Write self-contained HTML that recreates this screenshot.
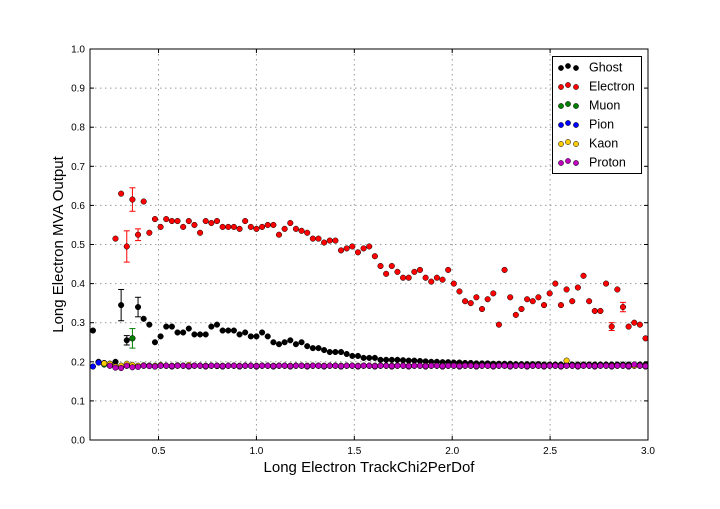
<!DOCTYPE html>
<html><head><meta charset="utf-8"><style>
body{margin:0;background:#fff;}
svg text{font-family:"Liberation Sans","DejaVu Sans",sans-serif;}
</style></head><body>
<svg id="c" width="720" height="504" xmlns="http://www.w3.org/2000/svg"></svg>
<script>
const xTicks=[0.5,1.0,1.5,2.0,2.5,3.0];
const xTickLabels=["0.5","1.0","1.5","2.0","2.5","3.0"];
const yTicks=[0,0.1,0.2,0.3,0.4,0.5,0.6,0.7,0.8,0.9,1.0];
const yTickLabels=["0.0","0.1","0.2","0.3","0.4","0.5","0.6","0.7","0.8","0.9","1.0"];
const binStart=0.165, binStep=0.0288, nBins=99;
const ghost=[0.28,0.20,0.195,0.195,0.20,0.345,0.255,0.26,0.34,0.31,0.295,0.25,0.265,0.29,0.29,0.275,0.275,0.285,0.27,0.27,0.27,0.29,0.295,0.28,0.28,0.28,0.27,0.275,0.265,0.265,0.275,0.265,0.25,0.245,0.25,0.255,0.245,0.25,0.24,0.235,0.235,0.23,0.225,0.225,0.225,0.22,0.215,0.215,0.21,0.21,0.21,0.205,0.205,0.205,0.205,0.204,0.203,0.203,0.202,0.201,0.2,0.2,0.199,0.199,0.198,0.198,0.197,0.197,0.196,0.196,0.196,0.195,0.195,0.195,0.195,0.194,0.194,0.194,0.194,0.194,0.193,0.193,0.193,0.193,0.193,0.193,0.193,0.193,0.193,0.193,0.193,0.193,0.193,0.193,0.193,0.193,0.193,0.193,0.193];
const ghostErr={5:0.04,6:0.012,8:0.025,9:0.006};
const electron=[null,null,null,null,0.515,0.63,0.495,0.615,0.525,0.61,0.53,0.565,0.545,0.565,0.56,0.56,0.545,0.56,0.55,0.53,0.56,0.555,0.56,0.545,0.545,0.545,0.54,0.56,0.545,0.54,0.545,0.55,0.55,0.525,0.54,0.555,0.54,0.535,0.53,0.515,0.515,0.505,0.51,0.51,0.485,0.49,0.495,0.48,0.49,0.495,0.47,0.445,0.425,0.445,0.43,0.415,0.415,0.43,0.435,0.415,0.405,0.415,0.41,0.435,0.40,0.38,0.355,0.35,0.365,0.335,0.36,0.375,0.295,0.435,0.365,0.32,0.335,0.36,0.355,0.365,0.345,0.375,0.40,0.345,0.385,0.355,0.39,0.42,0.355,0.33,0.33,0.40,0.29,0.385,0.34,0.29,0.30,0.295,0.26];
const electronErr={6:0.04,7:0.03,8:0.015,92:0.01,94:0.012};
const muon=[null,null,0.193,0.19,0.188,0.186,0.19,0.26,0.188,0.19,0.19,0.188,0.19,0.19,0.188,0.19,0.19,0.188,0.19,0.19,0.188,0.19,0.189,0.188,0.19,0.19,0.188,0.19,0.19,0.188,0.19,0.19,0.188,0.19,0.19,0.188,0.19,0.19,0.188,0.19,0.19,0.188,0.19,0.19,0.188,0.19,0.19,0.188,0.19,0.19,0.188,0.19,0.19,0.188,0.19,0.19,0.188,0.19,0.19,0.188,0.19,0.19,0.188,0.19,0.19,0.188,0.19,0.19,0.188,0.19,0.19,0.188,0.19,0.19,0.188,0.19,0.19,0.188,0.19,0.19,0.188,0.19,0.19,0.188,0.19,0.19,0.188,0.19,0.19,0.188,0.19,0.19,0.188,0.19,0.19,0.188,0.19,0.19,0.188];
const muonErr={7:0.025};
const pion=[0.188,0.198,0.197,0.193,0.188,0.186,0.19,0.19,0.188,0.19,0.19,0.188,0.19,0.19,0.188,0.19,0.19,0.188,0.19,0.19,0.188,0.19,0.19,0.188,0.19,0.19,0.188,0.19,0.19,0.188,0.19,0.19,0.188,0.19,0.19,0.188,0.19,0.19,0.188,0.19,0.19,0.188,0.19,0.19,0.188,0.19,0.19,0.188,0.19,0.19,0.188,0.19,0.19,0.188,0.19,0.19,0.188,0.19,0.19,0.188,0.19,0.19,0.188,0.19,0.19,0.188,0.19,0.19,0.188,0.19,0.19,0.188,0.19,0.19,0.188,0.19,0.19,0.188,0.19,0.19,0.188,0.19,0.19,0.188,0.19,0.19,0.188,0.19,0.19,0.188,0.19,0.19,0.188,0.19,0.19,0.188,0.19,0.19,0.188];
const kaon=[null,null,0.196,0.195,0.188,0.19,0.195,0.192,0.19,0.191,0.19,0.19,0.192,0.19,0.19,0.191,0.19,0.192,0.19,0.19,0.19,0.19,0.19,0.19,0.19,0.19,0.19,0.19,0.19,0.19,0.19,0.19,0.19,0.19,0.19,0.19,0.19,0.19,0.19,0.19,0.19,0.19,0.19,0.19,0.19,0.19,0.19,0.19,0.19,0.19,0.19,0.19,0.19,0.19,0.19,0.19,0.19,0.19,0.19,0.19,0.19,0.19,0.19,0.19,0.19,0.19,0.19,0.19,0.19,0.19,0.19,0.19,0.19,0.19,0.19,0.19,0.19,0.19,0.19,0.19,0.19,0.19,0.19,0.19,0.203,0.19,0.19,0.19,0.19,0.19,0.19,0.19,0.19,0.19,0.19,0.19,0.19,0.19,0.19];
const proton=[null,null,null,0.19,0.185,0.184,0.19,0.186,0.187,0.19,0.189,0.188,0.19,0.19,0.189,0.19,0.19,0.189,0.19,0.19,0.189,0.19,0.19,0.189,0.19,0.19,0.189,0.19,0.19,0.189,0.19,0.19,0.189,0.19,0.19,0.189,0.19,0.19,0.189,0.19,0.19,0.189,0.19,0.19,0.189,0.19,0.19,0.189,0.19,0.19,0.189,0.19,0.19,0.189,0.19,0.19,0.189,0.19,0.19,0.189,0.19,0.19,0.189,0.19,0.19,0.189,0.19,0.19,0.189,0.19,0.19,0.189,0.19,0.19,0.189,0.19,0.19,0.189,0.19,0.19,0.189,0.19,0.19,0.189,0.19,0.19,0.189,0.19,0.19,0.189,0.19,0.19,0.189,0.19,0.19,0.189,0.193,0.19,0.189];
const seriesNames=["Ghost","Electron","Muon","Pion","Kaon","Proton"];
const seriesColors=["#000000","#ff0000","#007f00","#0000ff","#ffcc00","#bf00bf"];

const NS="http://www.w3.org/2000/svg";
const svg=document.getElementById('c');
const L=90,R=648,T=49,B=440,xMin=0.15,xMax=3.0;
const X=v=>L+(v-xMin)/(xMax-xMin)*(R-L);
const Y=v=>B-v*(B-T);
function mk(tag,at,parent){const e=document.createElementNS(NS,tag);for(const k in at)e.setAttribute(k,at[k]);(parent||svg).appendChild(e);return e;}

const grid=mk('g',{});


xTicks.forEach(t=>{mk('line',{x1:X(t),x2:X(t),y1:T,y2:B,stroke:'#999','stroke-dasharray':'1.5,3.5','stroke-width':1},grid);});
yTicks.forEach(t=>{mk('line',{x1:L,x2:R,y1:Y(t),y2:Y(t),stroke:'#999','stroke-dasharray':'1.5,3.5','stroke-width':1},grid);});

const xa=mk('g',{});


xTicks.forEach((t,i)=>{
  mk('line',{x1:X(t),x2:X(t),y1:B,y2:B-4,stroke:'#000'},xa);
  mk('line',{x1:X(t),x2:X(t),y1:T,y2:T+4,stroke:'#000'},xa);
  const tx=mk('text',{x:X(t),y:B+14,'text-anchor':'middle','font-size':10},xa);tx.textContent=xTickLabels[i];
});
const ya=mk('g',{});


yTicks.forEach((t,i)=>{
  mk('line',{x1:L,x2:L+4,y1:Y(t),y2:Y(t),stroke:'#000'},ya);
  mk('line',{x1:R,x2:R-4,y1:Y(t),y2:Y(t),stroke:'#000'},ya);
  const tx=mk('text',{x:L-5,y:Y(t)+3.5,'text-anchor':'end','font-size':10},ya);tx.textContent=yTickLabels[i];
});
const xt=mk('text',{x:(L+R)/2,y:472,'text-anchor':'middle','font-size':15});


xt.textContent='Long Electron TrackChi2PerDof';
const yt=mk('text',{x:63,y:(T+B)/2,'text-anchor':'middle','font-size':15,transform:`rotate(-90 63 ${(T+B)/2})`});


yt.textContent='Long Electron MVA Output';

const allSeries=[ghost,electron,muon,pion,kaon,proton];
const allErr=[ghostErr,electronErr,muonErr,{},{},{}];
const order=[1,0,3,2,4,5];
order.forEach(s=>{
  const g=mk('g',{});
  
  
  allSeries[s].forEach((v,i)=>{
    if(v===null||v===undefined)return;
    const xv=binStart+i*binStep;
    const e=allErr[s][i]||0.004;
    const col=seriesColors[s];
    mk('line',{x1:X(xv-binStep/2),x2:X(xv+binStep/2),y1:Y(v),y2:Y(v),stroke:col,'stroke-width':1,opacity:0.5},g);
    mk('line',{x1:X(xv),x2:X(xv),y1:Y(v-e),y2:Y(v+e),stroke:col,'stroke-width':1,opacity:e>0.008?1:0.5},g);
    if(e>0.008){mk('line',{x1:X(xv)-3,x2:X(xv)+3,y1:Y(v-e),y2:Y(v-e),stroke:col},g);mk('line',{x1:X(xv)-3,x2:X(xv)+3,y1:Y(v+e),y2:Y(v+e),stroke:col},g);}
    const c=mk('circle',{cx:X(xv),cy:Y(v),r:2.8,fill:col,stroke:'#000','stroke-width':0.5},g);
    
    
  });
});

mk('rect',{x:L,y:T,width:R-L,height:B-T,fill:'none',stroke:'#000','stroke-width':1});

const lg=mk('g',{});


mk('rect',{x:552.5,y:56.5,width:89,height:117,fill:'#fff',stroke:'#000','stroke-width':1},lg);
seriesNames.forEach((n,i)=>{
  const y=67+i*19;
  const en=mk('g',{},lg);
  
  
  [561,568,576].forEach((cx,k)=>mk('circle',{cx:cx,cy:y+(k==1?-1:1),r:2.6,fill:seriesColors[i],stroke:'#000','stroke-width':0.5},en));
  const t=mk('text',{x:589,y:y+4.5,'font-size':12.5},en);t.textContent=n;
});
</script>
</body></html>
